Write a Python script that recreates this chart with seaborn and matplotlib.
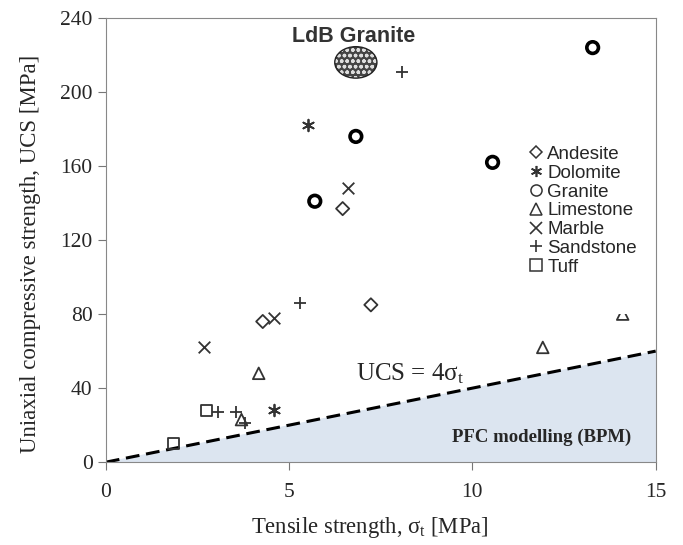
import numpy as np
import pandas as pd
import seaborn as sns
import matplotlib.pyplot as plt
from matplotlib.patches import Ellipse, Rectangle
from matplotlib.lines import Line2D

# Leitura dos pontos no gráfico (sigma_t [MPa], UCS [MPa])
andesite_x = [6.46, 7.23, 4.28]
andesite_y = [137, 85, 76]
dolomite_x = [5.51, 4.58]
dolomite_y = [182, 28]
granite_x = [6.82, 5.70, 13.28, 10.55]
granite_y = [176, 141, 224, 162]
limestone_x = [4.17, 3.70, 11.92, 14.1]
limestone_y = [48, 23, 62, 80]
marble_x = [6.60, 2.67, 4.58]
marble_y = [148, 62, 78]
sandstone_x = [8.07, 5.29, 3.05, 3.55, 3.79]
sandstone_y = [211, 86, 27, 27, 21]
tuff_x = [2.75, 1.85]
tuff_y = [28, 10]

ldb_x, ldb_y = 6.82, 216
line_x = np.array([0, 15])
ratio = 4

rochas = {
    "Andesite": (andesite_x, andesite_y, "D"),
    "Dolomite": (dolomite_x, dolomite_y, (6, 2, 0)),
    "Granite": (granite_x, granite_y, "o"),
    "Limestone": (limestone_x, limestone_y, "^"),
    "Marble": (marble_x, marble_y, "x"),
    "Sandstone": (sandstone_x, sandstone_y, "+"),
    "Tuff": (tuff_x, tuff_y, "s"),
}

df = pd.concat(
    [pd.DataFrame({"sigma_t": x, "UCS": y, "Rock": nome}) for nome, (x, y, m) in rochas.items()],
    ignore_index=True,
)

sns.set_style("ticks")
plt.rcParams['font.family'] = ['Liberation Serif', 'DejaVu Serif']
plt.rcParams['mathtext.fontset'] = 'custom'
plt.rcParams['mathtext.rm'] = 'Liberation Serif'
plt.rcParams['mathtext.it'] = 'Liberation Serif:italic'

fig = plt.figure(figsize=(6.83, 5.45), dpi=100)
ax = fig.add_axes([0.155, 0.152, 0.805, 0.815])

# Região do modelo PFC abaixo da linha UCS = 4 sigma_t
ax.fill_between(line_x, 0, ratio * line_x, color="#dce5f0", zorder=1)
ax.plot(line_x, ratio * line_x, color="black", ls=(0, (4.5, 2.2)), lw=2.2, zorder=2)

cinza = "#333333"
for nome, (x, y, m) in rochas.items():
    sub = df[df["Rock"] == nome]
    if nome == "Granite":
        sns.scatterplot(data=sub, x="sigma_t", y="UCS", marker="o", s=70,
                        facecolor="none", edgecolor="black", linewidth=2.6, ax=ax, zorder=4)
    elif m in ("+", "x", (6, 2, 0)):
        sns.scatterplot(data=sub, x="sigma_t", y="UCS", marker=m, s=70,
                        color=cinza, linewidth=1.3, ax=ax, zorder=4)
    else:
        sz = 45 if m == "D" else 70
        sns.scatterplot(data=sub, x="sigma_t", y="UCS", marker=m, s=sz,
                        facecolor="none", edgecolor=cinza, linewidth=1.3, ax=ax, zorder=4)

# LdB Granite
ax.add_patch(Ellipse((ldb_x, ldb_y), 1.15, 17, facecolor="#444444", edgecolor="#dddddd",
                     hatch="ooo", lw=0, zorder=3))
ax.add_patch(Ellipse((ldb_x, ldb_y), 1.15, 17, facecolor="none", edgecolor="#222222",
                     lw=1, zorder=3))
ax.text(ldb_x - 0.05, 230, "LdB Granite", family=["Liberation Sans"], fontsize=15.5,
        fontweight="bold", color="#333333", ha="center", va="center")

ax.text(8.3, 48, "UCS = 4σ$_\\mathrm{t}$", fontsize=18, ha="center", va="center")
ax.text(11.9, 13.5, "PFC modelling (BPM)", fontsize=13.5, fontweight="bold",
        ha="center", va="center")

# Fundo branco da legenda (cobre parte de um ponto, como no original)
ax.add_patch(Rectangle((0.756, 0.333), 0.232, 0.452, transform=ax.transAxes,
                       facecolor="white", edgecolor="none", zorder=4.5))

# Legenda
handles = []
for nome, (x, y, m) in rochas.items():
    if m in ("+", "x", (6, 2, 0)):
        h = Line2D([], [], ls="none", marker=m, color=cinza, markersize=8, mew=1.2)
    else:
        h = Line2D([], [], ls="none", marker=m, markerfacecolor="none",
                   markeredgecolor=cinza, markersize=6.5 if m == "D" else 8, mew=1.1)
    handles.append(h)
leg = ax.legend(handles, list(rochas.keys()), loc="lower right", bbox_to_anchor=(0.99, 0.39),
                frameon=False, prop={"family": "Liberation Sans", "size": 13.5},
                handletextpad=0.1, handlelength=1.0, labelspacing=0.09, borderpad=0.2)
leg.set_zorder(5)

ax.set_xlim(0, 15)
ax.set_ylim(0, 240)
ax.set_xticks([0, 5, 10, 15])
ax.set_yticks(range(0, 241, 40))
ax.tick_params(labelsize=15.5, color="#777777", length=6)
ax.tick_params(axis="x", pad=9)
for s in ax.spines.values():
    s.set_color("#888888")
ax.set_xlabel("Tensile strength, σ$_\\mathrm{t}$ [MPa]", fontsize=16.3)
ax.set_ylabel("Uniaxial compressive strength, UCS [MPa]", fontsize=16.5)
ax.xaxis.set_label_coords(0.48, -0.12)
ax.yaxis.set_label_coords(-0.118, 0.47)

fig.savefig("out.png", dpi=100)
